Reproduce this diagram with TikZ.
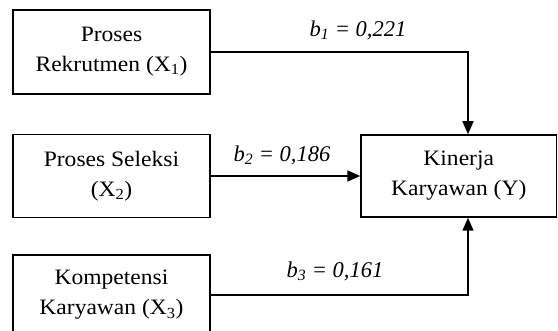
\documentclass[tikz,border=0pt]{standalone}
\usepackage{fontspec}
\setmainfont{Liberation Serif}[FakeStretch=1.07]
\newfontfamily\coeffont{Liberation Serif}
\usetikzlibrary{arrows.meta}

\tikzset{
  varbox/.style={draw=black, line width=1.5pt, fill=white, align=center,
    font=\fontsize{22}{30}\selectfont, inner sep=0pt},
  conn/.style={draw=black, line width=1.5pt,
    -{Triangle[length=13pt, width=11pt]}},
  coef/.style={font=\coeffont\fontsize{22.5}{24}\selectfont\itshape, inner sep=1pt}
}

\begin{document}
\begin{tikzpicture}[x=1pt, y=-1pt]
  \path[use as bounding box, clip] (0,0) rectangle (558,331);
  \fill[white] (0,0) rectangle (558,331);

  % independent variables
  \node[varbox, minimum width=197pt, minimum height=84pt] (x1) at (111.5,52)
    {Proses\\Rekrutmen (X\textsubscript{1})};
  \node[varbox, minimum width=197pt, minimum height=83pt] (x2) at (111.5,176)
    {Proses Seleksi\\(X\textsubscript{2})};
  \node[varbox, minimum width=197pt, minimum height=80pt] (x3) at (111.5,295)
    {Kompetensi\\Karyawan (X\textsubscript{3})};

  % dependent variable
  \node[varbox, minimum width=195.5pt, minimum height=82pt] (y) at (458.75,176)
    {Kinerja\\Karyawan (Y)};

  % regression paths
  \draw[conn] (x1.east) -| ([xshift=9.25pt]y.north);
  \draw[conn] (x2.east) -- (y.west);
  \draw[conn] (x3.east) -| ([xshift=9.25pt]y.south);

  % coefficients
  \node[coef] (b1) at (358,30) {b\textsubscript{1} = 0,221};
  \node[coef] (b2) at (282,155) {b\textsubscript{2} = 0,186};
  \node[coef] (b3) at (335,271) {b\textsubscript{3} = 0,161};
\end{tikzpicture}
\end{document}
